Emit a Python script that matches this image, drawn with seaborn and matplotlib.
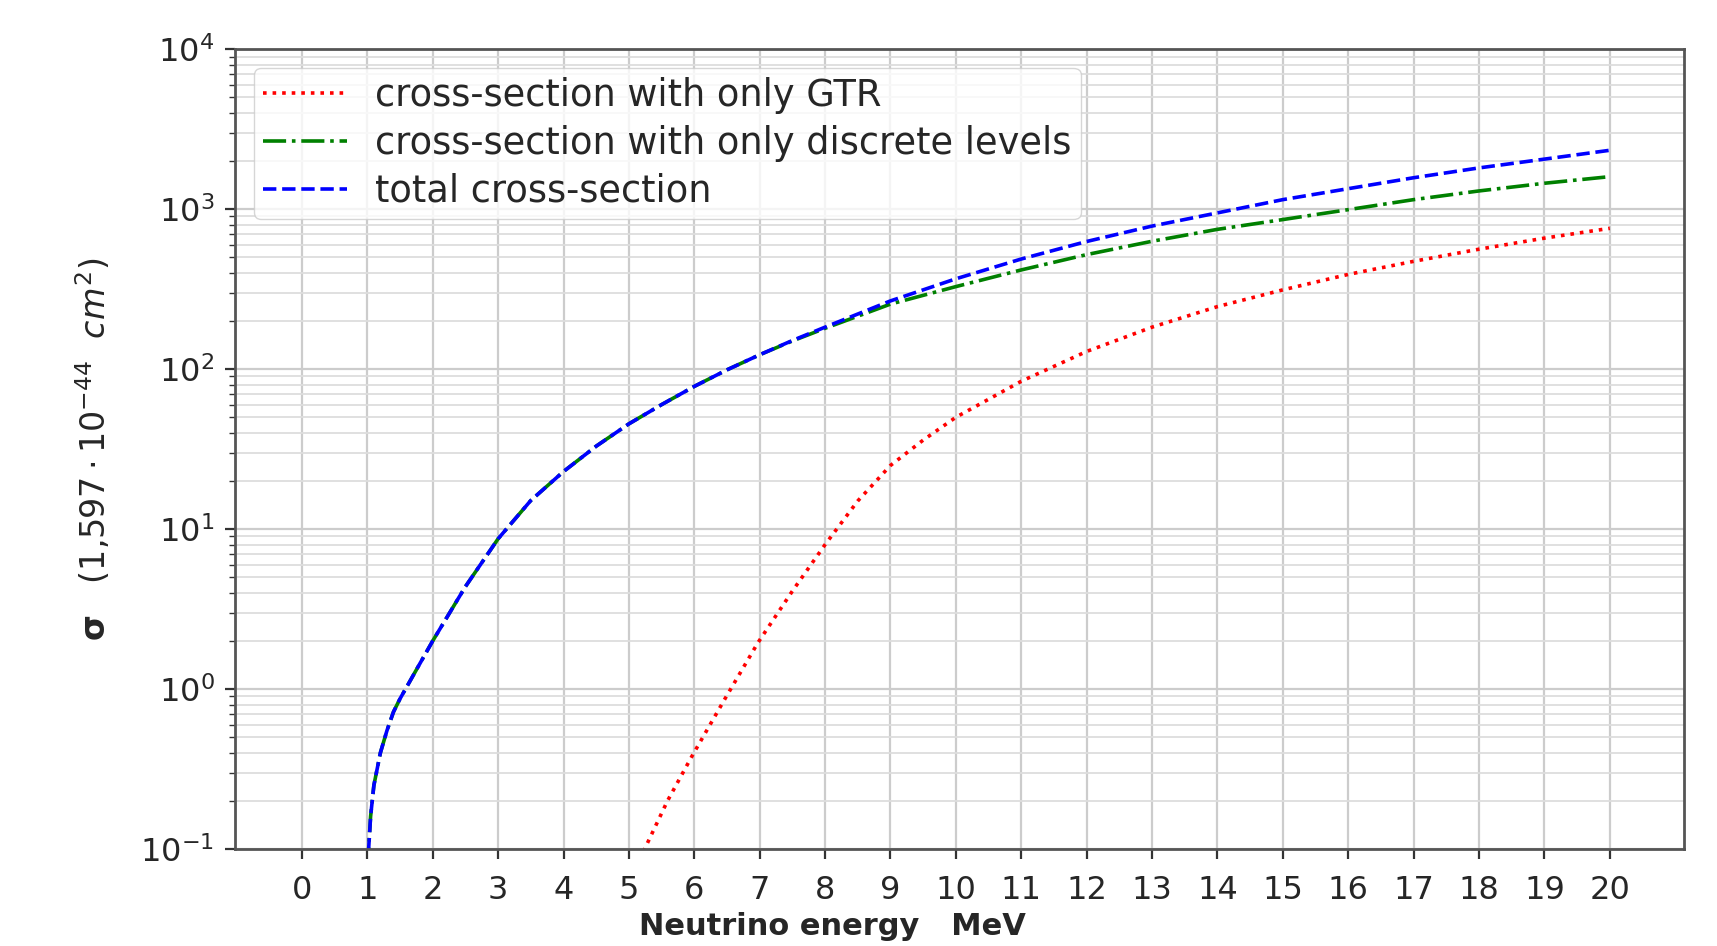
import numpy as np
import pandas as pd
import matplotlib
matplotlib.use("Agg")
import matplotlib.pyplot as plt
import seaborn as sns
from matplotlib.ticker import LogLocator, FixedLocator

# ---- data ----
energy_main = [1.0, 1.02, 1.05, 1.1, 1.2, 1.3, 1.4, 1.5, 1.75, 2.0, 2.5, 3.0, 3.5, 4.0,
               4.5, 5.0, 5.5, 6.0, 6.5, 7.0, 7.5, 8.0, 9.0, 10.0, 11.0, 12.0, 13.0, 14.0,
               15.0, 16.0, 17.0, 18.0, 19.0, 20.0]
total_xs = [0.02, 0.1, 0.16, 0.25, 0.4, 0.55, 0.72, 0.87, 1.32, 2.0, 4.37, 8.7, 15.1, 22.9,
            33.0, 45.5, 60.0, 78.0, 99.0, 123.0, 151.0, 183.0, 267.0, 367.0, 488.0,
            628.0, 784.0, 948.0, 1147.0, 1343.0, 1572.0, 1811.0, 2055.0, 2334.0]
discrete_xs = [0.02, 0.1, 0.16, 0.25, 0.4, 0.55, 0.72, 0.87, 1.32, 2.0, 4.37, 8.7, 15.1, 22.9,
               33.0, 45.5, 60.0, 78.0, 99.0, 123.0, 150.0, 180.0, 255.0, 328.0, 417.0,
               520.0, 630.0, 748.0, 861.0, 993.0, 1147.0, 1300.0, 1452.0, 1597.0]
energy_gtr = [5.0, 5.24, 5.59, 5.96, 6.46, 6.97, 7.5, 8.0, 8.5, 9.0, 9.5, 10.0, 11.0, 12.0,
              13.0, 14.0, 15.0, 16.0, 17.0, 18.0, 19.0, 20.0]
gtr_xs = [0.05, 0.1, 0.2, 0.378, 0.857, 1.94, 4.1, 8.0, 15.0, 25.0, 36.0, 50.0, 84.0, 129.0,
          183.0, 246.0, 313.0, 391.0, 472.0, 562.0, 659.0, 759.0]

labels = ["cross-section with only GTR",
          "cross-section with only discrete levels",
          "total cross-section"]
xticks = list(range(0, 21))

sns.set_style("white")
plt.rcParams["font.family"] = ["DejaVu Sans"]
plt.rcParams["mathtext.fontset"] = "dejavusans"

fig = plt.figure(figsize=(17.17, 9.46), dpi=100)
ax = fig.add_axes([0.137, 0.1025, 0.844, 0.8455])

sns.lineplot(x=energy_gtr, y=gtr_xs, ax=ax, color="red", linestyle=":", linewidth=2.6,
             label=labels[0])
sns.lineplot(x=energy_main, y=discrete_xs, ax=ax, color="green", linestyle="-.",
             linewidth=2.6, label=labels[1])
sns.lineplot(x=energy_main, y=total_xs, ax=ax, color="blue", linestyle="--",
             linewidth=2.6, label=labels[2])

ax.set_yscale("log")
ax.set_ylim(0.1, 1e4)
ax.set_xlim(-1.02, 21.14)
ax.xaxis.set_major_locator(FixedLocator(xticks))
ax.yaxis.set_major_locator(LogLocator(base=10, numticks=10))
ax.yaxis.set_minor_locator(LogLocator(base=10, subs=np.arange(2, 10), numticks=20))

ax.grid(True, which="major", axis="both", color="#cccccc", linewidth=1.6)
ax.grid(True, which="minor", axis="y", color="#dddddd", linewidth=1.3)
ax.set_axisbelow(True)

for s in ax.spines.values():
    s.set_color("#555555")
    s.set_linewidth(2.0)

ax.tick_params(axis="both", which="major", labelsize=23, length=7, width=1.6,
               color="#333333", direction="out", pad=8, left=True, bottom=True)
ax.tick_params(axis="y", which="minor", length=4, width=1.0, color="#333333", left=True)
ax.tick_params(axis="x", which="major", pad=12)

ax.set_xlabel("Neutrino energy   MeV", fontsize=22, fontweight="bold", labelpad=4)
ax.xaxis.label.set_x(0.412)
ax.set_ylabel(r"$\mathbf{\sigma}$   $(1{,}597\cdot10^{-44}\ \ cm^{2})$", fontsize=24,
              labelpad=20)

leg = ax.legend(loc="upper left", fontsize=26.5, frameon=True, framealpha=0.8,
                edgecolor="#cccccc", handlelength=2.3, borderaxespad=0.5,
                labelspacing=0.3, handletextpad=0.75, fancybox=True, borderpad=0.25)
leg.get_frame().set_linewidth(1.0)

fig.savefig("out.png", dpi=100)
